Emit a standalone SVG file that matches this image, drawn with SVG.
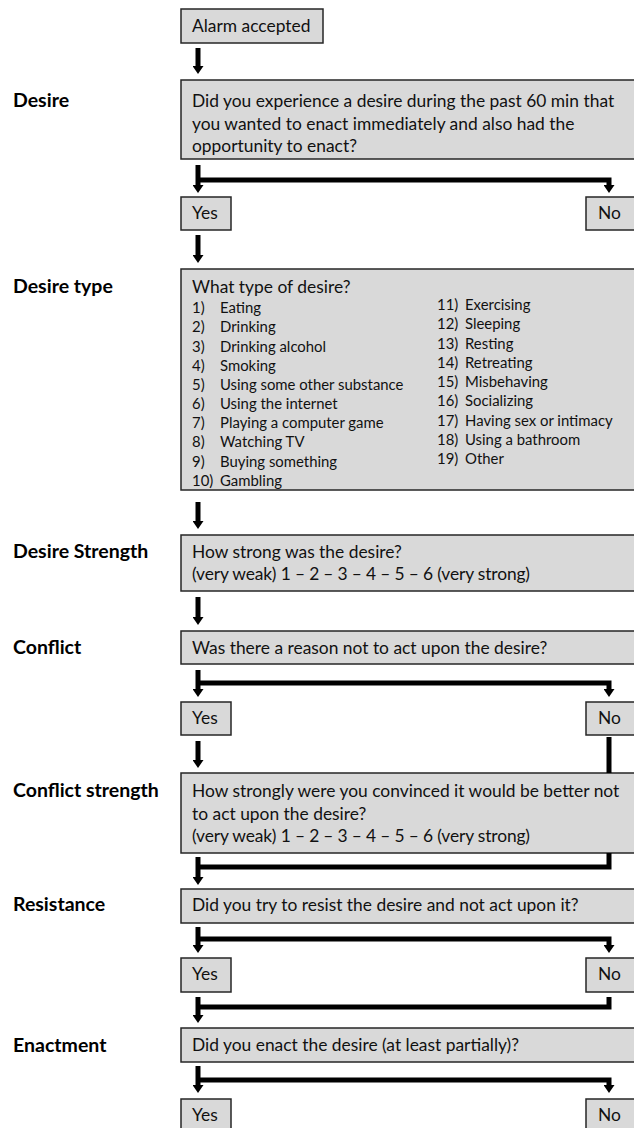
<svg xmlns="http://www.w3.org/2000/svg" width="634" height="1128" viewBox="0 0 634 1128">
<style>
.box{fill:#d9d9d9;stroke:#262626;stroke-width:1.5}
.t{font-family:Lato,"Open Sans",sans-serif;font-size:17.4px;fill:#111}
.s{font-family:Lato,"Open Sans",sans-serif;font-size:14.9px;fill:#111}
.lab{font-family:Lato,"Open Sans",sans-serif;font-size:19.5px;font-weight:bold;fill:#000}
.c{fill:none;stroke:#000;stroke-width:5;stroke-linejoin:miter}
.a{marker-end:url(#ah)}
</style>
<defs>
<marker id="ah" viewBox="0 0 8 11" refX="0" refY="5.5" markerWidth="8" markerHeight="11" markerUnits="userSpaceOnUse" orient="auto">
<path d="M0,0 L8,5.5 L0,11 z" fill="#000"/>
</marker>
</defs>
<rect width="634" height="1128" fill="#fff"/>
<g id="labels">
<text class="lab" x="13" y="107">Desire</text>
<text class="lab" x="13" y="293">Desire type</text>
<text class="lab" x="13" y="558">Desire Strength</text>
<text class="lab" x="13" y="654">Conflict</text>
<text class="lab" x="13" y="797">Conflict strength</text>
<text class="lab" x="13" y="911">Resistance</text>
<text class="lab" x="13" y="1052">Enactment</text>
</g>
<g id="alarm"><rect class="box" x="181" y="9" width="142" height="34"/><text class="t" x="192" y="32">Alarm accepted</text></g>
<g id="desire"><rect class="box" x="181" y="80" width="455" height="79"/>
<text class="t" x="192" y="107">Did you experience a desire during the past 60 min that</text>
<text class="t" x="192" y="130">you wanted to enact immediately and also had the</text>
<text class="t" x="192" y="152">opportunity to enact?</text></g>
<g id="desire-yes"><rect class="box" x="181" y="197" width="50" height="33"/><text class="t" x="192" y="219">Yes</text></g>
<g id="desire-no"><rect class="box" x="586" y="197" width="50" height="33"/><text class="t" x="598" y="219">No</text></g>
<g id="desire-type"><rect class="box" x="181" y="269" width="455" height="221"/>
<text class="t" x="192" y="293">What type of desire?</text>
<g class="s">
<text x="192" y="313">1)</text><text x="220" y="313">Eating</text>
<text x="192" y="332">2)</text><text x="220" y="332">Drinking</text>
<text x="192" y="351.5">3)</text><text x="220" y="351.5">Drinking alcohol</text>
<text x="192" y="370.5">4)</text><text x="220" y="370.5">Smoking</text>
<text x="192" y="390">5)</text><text x="220" y="390">Using some other substance</text>
<text x="192" y="409">6)</text><text x="220" y="409">Using the internet</text>
<text x="192" y="428">7)</text><text x="220" y="428">Playing a computer game</text>
<text x="192" y="447">8)</text><text x="220" y="447">Watching TV</text>
<text x="192" y="466.5">9)</text><text x="220" y="466.5">Buying something</text>
<text x="192" y="485.5">10)</text><text x="220" y="485.5">Gambling</text>
<text x="437" y="310">11)</text><text x="465" y="310">Exercising</text>
<text x="437" y="329">12)</text><text x="465" y="329">Sleeping</text>
<text x="437" y="348.5">13)</text><text x="465" y="348.5">Resting</text>
<text x="437" y="367.5">14)</text><text x="465" y="367.5">Retreating</text>
<text x="437" y="387">15)</text><text x="465" y="387">Misbehaving</text>
<text x="437" y="406">16)</text><text x="465" y="406">Socializing</text>
<text x="437" y="425.5">17)</text><text x="465" y="425.5">Having sex or intimacy</text>
<text x="437" y="444.5">18)</text><text x="465" y="444.5">Using a bathroom</text>
<text x="437" y="463.5">19)</text><text x="465" y="463.5">Other</text>
</g></g>
<g id="desire-strength"><rect class="box" x="181" y="535" width="455" height="56"/>
<text class="t" x="192" y="558">How strong was the desire?</text>
<text class="t" x="192" y="580" textLength="338">(very weak) 1 – 2 – 3 – 4 – 5 – 6 (very strong)</text></g>
<g id="conflict"><rect class="box" x="181" y="631" width="455" height="33"/>
<text class="t" x="192" y="654">Was there a reason not to act upon the desire?</text></g>
<g id="conflict-yes"><rect class="box" x="181" y="702" width="50" height="33"/><text class="t" x="192" y="724">Yes</text></g>
<g id="conflict-no"><rect class="box" x="586" y="702" width="50" height="33"/><text class="t" x="598" y="724">No</text></g>
<g id="conflict-strength"><rect class="box" x="181" y="773" width="455" height="80"/>
<text class="t" x="192" y="797">How strongly were you convinced it would be better not</text>
<text class="t" x="192" y="820">to act upon the desire?</text>
<text class="t" x="192" y="842" textLength="338">(very weak) 1 – 2 – 3 – 4 – 5 – 6 (very strong)</text></g>
<g id="resistance"><rect class="box" x="181" y="889" width="455" height="34"/>
<text class="t" x="192" y="911">Did you try to resist the desire and not act upon it?</text></g>
<g id="resistance-yes"><rect class="box" x="181" y="958" width="50" height="34"/><text class="t" x="192" y="980">Yes</text></g>
<g id="resistance-no"><rect class="box" x="586" y="958" width="50" height="34"/><text class="t" x="598" y="980">No</text></g>
<g id="enactment"><rect class="box" x="181" y="1028" width="455" height="34"/>
<text class="t" x="192" y="1051">Did you enact the desire (at least partially)?</text></g>
<g id="enactment-yes"><rect class="box" x="181" y="1099" width="50" height="40"/><text class="t" x="192" y="1121">Yes</text></g>
<g id="enactment-no"><rect class="box" x="586" y="1099" width="50" height="40"/><text class="t" x="598" y="1121">No</text></g>
<g id="connectors">
<path class="c a" d="M198,48 V66"/>
<path class="c a" d="M198,165 V185"/>
<path class="c a" d="M198,180 H609 V185"/>
<path class="c a" d="M198,235 V255"/>
<path class="c a" d="M198,502 V521"/>
<path class="c a" d="M198,597 V617"/>
<path class="c a" d="M198,670 V689"/>
<path class="c a" d="M198,683 H609 V689"/>
<path class="c a" d="M198,741 V760"/>
<path class="c" d="M609,737 V773"/>
<path class="c a" d="M198,857 V877"/>
<path class="c" d="M198,867 H609 V853"/>
<path class="c a" d="M198,927 V945"/>
<path class="c a" d="M198,939 H609 V945"/>
<path class="c a" d="M198,997 V1015"/>
<path class="c" d="M198,1007 H609 V997"/>
<path class="c a" d="M198,1066 V1085"/>
<path class="c a" d="M198,1080 H609 V1085"/>
</g>
</svg>
